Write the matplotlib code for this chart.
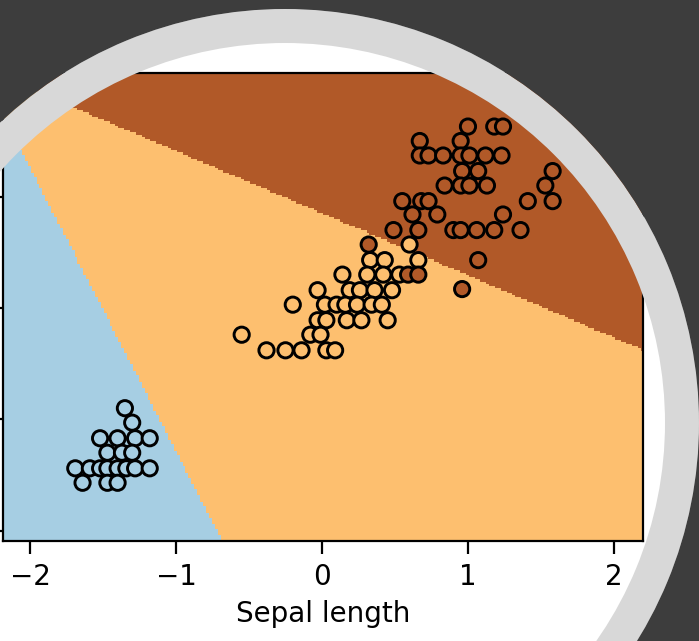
import numpy as np
import matplotlib
matplotlib.use("Agg")
import matplotlib.pyplot as plt
from matplotlib.patches import Annulus

# ---------------- data ----------------
setosa_x = [-1.35, -1.30, -1.52, -1.40, -1.28, -1.18, -1.47, -1.37, -1.30, -1.69,
            -1.59, -1.52, -1.47, -1.40, -1.34, -1.28, -1.18, -1.64, -1.47, -1.40]
setosa_y = [-0.90, -1.03, -1.17, -1.17, -1.17, -1.17, -1.30, -1.30, -1.30, -1.44,
            -1.44, -1.44, -1.44, -1.44, -1.44, -1.44, -1.44, -1.57, -1.57, -1.57]

versicolor_x = [0.14, -0.03, -0.20, 0.02, 0.10, -0.03, 0.03, -0.55, -0.08, -0.01,
                -0.38, -0.25, -0.14, 0.03, 0.09, 0.60, 0.33, 0.43, 0.66, 0.31,
                0.42, 0.53, 0.19, 0.26, 0.36, 0.48, 0.16, 0.24, 0.34, 0.41,
                0.17, 0.27, 0.45]
versicolor_y = [0.30, 0.16, 0.03, 0.03, 0.03, -0.11, -0.11, -0.24, -0.24, -0.24,
                -0.38, -0.38, -0.38, -0.38, -0.38, 0.57, 0.43, 0.43, 0.43, 0.30,
                0.30, 0.30, 0.16, 0.16, 0.16, 0.16, 0.03, 0.03, 0.03, 0.03,
                -0.11, -0.11, -0.11]

virginica_x = [1.00, 1.18, 1.24, 0.67, 0.95, 0.67, 0.73, 0.83, 0.95, 1.01,
               1.12, 1.23, 0.96, 1.07, 0.84, 0.95, 1.01, 1.13, 1.58, 1.53,
               1.41, 1.58, 0.55, 0.68, 0.73, 0.62, 0.79, 1.24, 0.49, 0.66,
               0.90, 0.95, 1.06, 1.18, 1.36, 1.07, 0.96, 0.32, 0.59, 0.66]
virginica_y = [1.63, 1.63, 1.63, 1.50, 1.50, 1.37, 1.37, 1.37, 1.37, 1.37,
               1.37, 1.37, 1.23, 1.23, 1.10, 1.10, 1.10, 1.10, 1.23, 1.10,
               0.96, 0.96, 0.96, 0.96, 0.96, 0.84, 0.84, 0.84, 0.70, 0.70,
               0.70, 0.70, 0.70, 0.70, 0.70, 0.43, 0.17, 0.57, 0.30, 0.30]

# linear class scores (class 1 score is 0): s = a*x + b*y + c
score_setosa = (-3.488, -1.370, -5.252)
score_virginica = (2.182, 3.904, -3.327)

x_range = (-2.185, 2.199)
y_range = (-2.093, 2.111)
x_ticks = [-2, -1, 0, 1, 2]
y_ticks = [-2, -1, 0, 1]
x_label = "Sepal length"

# ---------------- figure ----------------
W, H, DPI = 699, 641, 200
fig = plt.figure(figsize=(W / DPI, H / DPI), dpi=DPI, facecolor="white")

ax = fig.add_axes([3 / W, 1 - 541 / H, 640 / W, 468 / H])

h = 0.02
xx, yy = np.meshgrid(np.arange(x_range[0], x_range[1] + h, h),
                     np.arange(y_range[0], y_range[1] + h, h))
s0 = score_setosa[0] * xx + score_setosa[1] * yy + score_setosa[2]
s1 = np.zeros_like(xx)
s2 = score_virginica[0] * xx + score_virginica[1] * yy + score_virginica[2]
Z = np.argmax(np.stack([s0, s1, s2]), axis=0)
ax.pcolormesh(xx, yy, Z, cmap=plt.cm.Paired, shading="auto", vmin=0, vmax=2)

X = np.concatenate([setosa_x, versicolor_x, virginica_x])
Y = np.concatenate([setosa_y, versicolor_y, virginica_y])
C = np.concatenate([np.zeros(len(setosa_x)), np.ones(len(versicolor_x)),
                    2 * np.ones(len(virginica_x))])
ax.scatter(X, Y, c=C, cmap=plt.cm.Paired, vmin=0, vmax=2, s=30,
           edgecolors="k", linewidths=1.05, zorder=3)

ax.set_xlim(*x_range)
ax.set_ylim(*y_range)
ax.set_xticks(x_ticks)
ax.set_yticks(y_ticks)
ax.tick_params(length=4.5, width=0.8, labelsize=10)
# y tick labels fall outside the visible crop in the reference
ax.tick_params(axis="y", labelleft=False)
ax.set_xlabel(x_label, fontsize=10, labelpad=3)

# ---------------- circular frame overlay ----------------
ov = fig.add_axes([0, 0, 1, 1], zorder=10)
ov.set_xlim(0, W)
ov.set_ylim(H, 0)
ov.axis("off")
ov.patch.set_alpha(0)
cx, cy, r_in, r_out = 285, 423, 380, 414
ov.add_patch(Annulus((cx, cy), r_out, r_out - r_in, facecolor="#d8d8d8",
                     edgecolor="none"))
ov.add_patch(Annulus((cx, cy), 3000, 3000 - r_out, facecolor="#3d3d3d",
                     edgecolor="none"))

fig.savefig("out.png", dpi=DPI, facecolor="white")
